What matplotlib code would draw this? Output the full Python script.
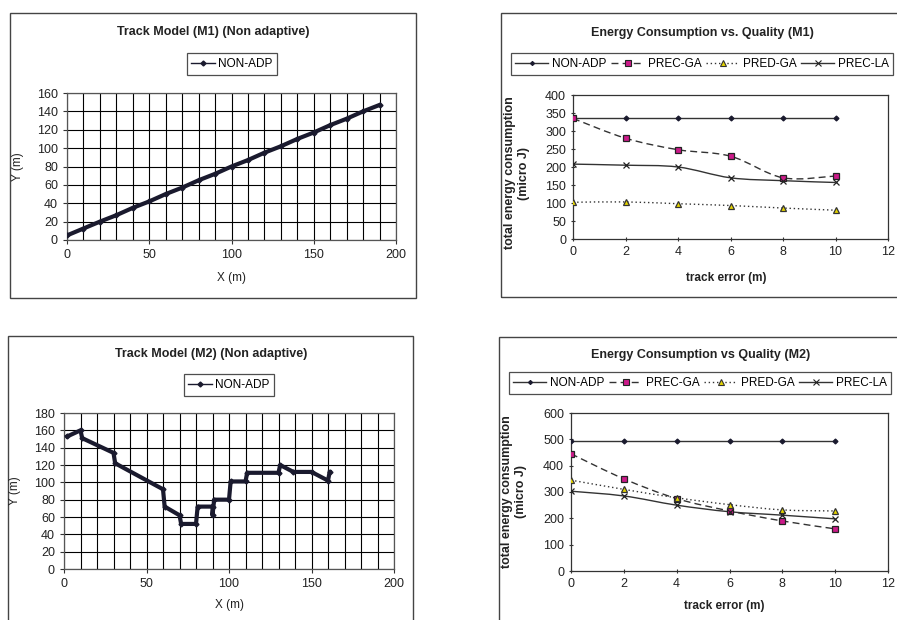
import numpy as np
import matplotlib.pyplot as plt
from matplotlib.patches import Rectangle, PathPatch
from matplotlib.path import Path
from matplotlib.lines import Line2D

plt.rcParams['font.family'] = ['Liberation Sans', 'DejaVu Sans']

# Track model M1 (straight track)
m1_x = [0, 10, 20, 30, 40, 50, 60, 70, 80, 90, 100, 110, 120, 130, 140, 150, 160, 170, 180, 190]
m1_y = [5, 12.5, 20, 27, 35, 42, 50, 57, 65, 72, 80, 87, 95, 102, 110, 117, 125, 132, 140, 147]

# Track model M2 (stepped track)
m2_x = [2, 10, 11, 30, 31, 60, 61, 70, 71, 80, 81, 90, 90, 91, 100, 101, 110, 111, 130, 131, 139, 150, 160, 161]
m2_y = [153, 160, 151, 134, 122, 92, 72, 62, 52, 52, 72, 72, 62, 80, 80, 101, 101, 111, 111, 120, 112, 112, 102, 112]

# Energy consumption vs track error
track_err = [0, 2, 4, 6, 8, 10]
e1_non_adp = [335, 335, 335, 335, 335, 335]
e1_prec_ga = [335, 280, 248, 230, 170, 175]
e1_pred_ga = [102, 103, 98, 93, 86, 80]
e1_prec_la = [208, 205, 200, 170, 162, 157]

e2_non_adp = [495, 495, 495, 495, 495, 495]
e2_prec_ga = [445, 350, 275, 228, 190, 160]
e2_pred_ga = [345, 310, 278, 252, 232, 228]
e2_prec_la = [303, 285, 250, 225, 212, 198]

W, H = 897, 620
fig = plt.figure(figsize=(W / 100, H / 100), dpi=100)

INK = '#1a1a2e'


def fbox(x0, y0, x1, y1):
    # pixel box (top-left origin) -> figure fraction rect
    return [x0 / W, 1 - y1 / H, (x1 - x0) / W, (y1 - y0) / H]


def panel_border(x0, y0, x1, y1):
    fig.add_artist(Rectangle((x0 / W, 1 - y1 / H), (x1 - x0) / W, (y1 - y0) / H,
                             transform=fig.transFigure, fill=False,
                             edgecolor='#444444', lw=1.0))


def smooth_path(x, y):
    # Catmull-Rom style bezier through the points (Excel smoothed line)
    pts = np.column_stack([x, y]).astype(float)
    verts = [pts[0]]
    codes = [Path.MOVETO]
    n = len(pts)
    for i in range(n - 1):
        p0 = pts[max(i - 1, 0)]
        p1 = pts[i]
        p2 = pts[i + 1]
        p3 = pts[min(i + 2, n - 1)]
        c1 = p1 + (p2 - p0) / 6.0
        c2 = p2 - (p3 - p1) / 6.0
        verts += [c1, c2, p2]
        codes += [Path.CURVE4] * 3
    return Path(verts, codes)


def track_panel(rect, title, title_pos, leg_pos, xs, ys, ymax, xlab_pos, ylab_pos):
    ax = fig.add_axes(fbox(*rect))
    ax.plot(xs, ys, color=INK, lw=3.0, marker='D', ms=2.5, zorder=3, solid_joinstyle='round')
    ax.set_xlim(0, 200)
    ax.set_ylim(0, ymax)
    ax.set_xticks(range(0, 201, 50))
    ax.set_xticks(range(0, 201, 10), minor=True)
    ax.set_yticks(range(0, ymax + 1, 20))
    ax.grid(True, which='both', color='black', lw=0.8)
    ax.tick_params(axis='x', which='minor', length=0)
    ax.tick_params(labelsize=9, length=3, width=0.8, colors='#333333', labelcolor='#222222')
    for s in ax.spines.values():
        s.set_color('#555555')
        s.set_linewidth(0.9)
    ax.set_axisbelow(True)
    fig.text(title_pos[0] / W, 1 - title_pos[1] / H, title, ha='center', va='center',
             fontsize=9, fontweight='bold', color='#222222')
    fig.text(xlab_pos[0] / W, 1 - xlab_pos[1] / H, 'X (m)', ha='center', va='center',
             fontsize=8.5, color='#222222')
    fig.text(ylab_pos[0] / W, 1 - ylab_pos[1] / H, 'Y (m)', ha='center', va='center',
             fontsize=8.5, color='#222222', rotation=90)
    h = Line2D([], [], color=INK, lw=1.0, marker='D', ms=2.5)
    leg = ax.legend([h], ['NON-ADP'], loc='center',
                    bbox_to_anchor=(leg_pos[0] / W, 1 - leg_pos[1] / H),
                    bbox_transform=fig.transFigure, fontsize=8.5, frameon=True,
                    fancybox=False, edgecolor='#222222', handlelength=2.0,
                    handletextpad=0.3, borderpad=0.4, borderaxespad=0)
    leg.get_frame().set_linewidth(0.9)
    return ax


def energy_panel(rect, title, title_pos, leg_pos, series, ymax, ystep, xlab_pos, ylab_pos):
    ax = fig.add_axes(fbox(*rect))
    styles = [
        dict(ls='-', color='#333333', marker='D', ms=2.5, mfc=INK, mec=INK, label='NON-ADP'),
        dict(ls=(0, (5, 3)), color='#333333', marker='s', ms=4.8, mfc='#cc1a8a', mec='#222222', label='PREC-GA'),
        dict(ls=(0, (1, 2)), color='#333333', marker='^', ms=4.8, mfc='#e6d500', mec='#333333', label='PRED-GA'),
        dict(ls='-', color='#333333', marker='x', ms=4.5, mfc='none', mec='#222222', label='PREC-LA'),
    ]
    handles = []
    for vals, st in zip(series, styles):
        if st['label'] == 'NON-ADP':
            ax.plot(track_err, vals, ls='-', color=st['color'], lw=1.0, zorder=2)
        else:
            ax.add_patch(PathPatch(smooth_path(track_err, vals), fill=False,
                                   edgecolor=st['color'], lw=1.0, linestyle=st['ls'], zorder=2))
        ax.plot(track_err, vals, ls='none', marker=st['marker'], ms=st['ms'],
                mfc=st['mfc'], mec=st['mec'], mew=0.9, zorder=3)
        handles.append(Line2D([], [], ls=st['ls'], color=st['color'], lw=1.0,
                              marker=st['marker'], ms=st['ms'] * 0.85, mfc=st['mfc'],
                              mec=st['mec'], mew=0.8))
    ax.set_xlim(0, 12)
    ax.set_ylim(0, ymax)
    ax.set_xticks(range(0, 13, 2))
    ax.set_yticks(range(0, ymax + 1, ystep))
    ax.tick_params(labelsize=9, length=3, width=0.8, direction='inout',
                   colors='#333333', labelcolor='#222222')
    for s in ax.spines.values():
        s.set_color('#333333')
        s.set_linewidth(0.9)
    fig.text(title_pos[0] / W, 1 - title_pos[1] / H, title, ha='center', va='center',
             fontsize=9, fontweight='bold', color='#222222')
    fig.text(xlab_pos[0] / W, 1 - xlab_pos[1] / H, 'track error (m)', ha='center', va='center',
             fontsize=8.5, fontweight='bold', color='#222222')
    fig.text(ylab_pos[0] / W, 1 - ylab_pos[1] / H, 'total energy consumption\n(micro J)',
             ha='center', va='center', fontsize=9, fontweight='bold', color='#222222',
             rotation=90, linespacing=1.3)
    leg = ax.legend(handles, [s['label'] for s in styles], loc='center',
                    bbox_to_anchor=(leg_pos[0] / W, 1 - leg_pos[1] / H),
                    bbox_transform=fig.transFigure, fontsize=8.5, ncol=4, frameon=True,
                    fancybox=False, edgecolor='#222222', handlelength=2.8,
                    handletextpad=0.3, columnspacing=0.4, borderpad=0.4, borderaxespad=0)
    leg.get_frame().set_linewidth(0.9)
    return ax


# panel frames
panel_border(10, 13, 416, 298)
panel_border(501, 13, 905, 297)
panel_border(8, 336, 413, 630)
panel_border(499, 337, 905, 630)

track_panel((67, 93, 396, 240), 'Track Model (M1) (Non adaptive)', (213, 32), (232, 64),
            m1_x, m1_y, 160, (231, 278), (18, 167))
track_panel((64, 413, 394, 569), 'Track Model (M2) (Non adaptive)', (211, 354), (229, 385),
            m2_x, m2_y, 180, (229, 605), (15, 491))

energy_panel((573, 95, 888, 239), 'Energy Consumption vs. Quality (M1)', (702, 33), (702, 64),
             [e1_non_adp, e1_prec_ga, e1_pred_ga, e1_prec_la], 400, 50, (726, 278), (517, 173))
energy_panel((571, 413, 888, 571), 'Energy Consumption vs Quality (M2)', (701, 355), (700, 383),
             [e2_non_adp, e2_prec_ga, e2_pred_ga, e2_prec_la], 600, 100, (724, 606), (514, 492))

fig.savefig('out.png', dpi=100)
